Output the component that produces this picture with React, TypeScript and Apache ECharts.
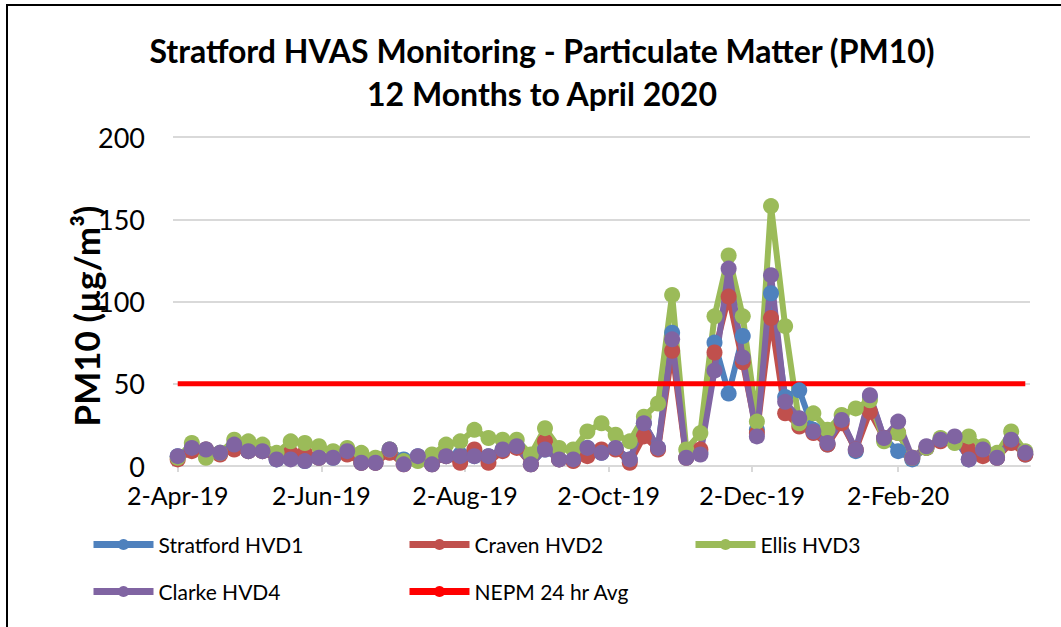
import React, { useEffect, useRef } from "react";
import * as echarts from "echarts";

const sampleDates = [
  "2019-04-02", "2019-04-08", "2019-04-14", "2019-04-20", "2019-04-26",
  "2019-05-02", "2019-05-08", "2019-05-14", "2019-05-20", "2019-05-26",
  "2019-06-01", "2019-06-07", "2019-06-13", "2019-06-19", "2019-06-25",
  "2019-07-01", "2019-07-07", "2019-07-13", "2019-07-19", "2019-07-25",
  "2019-07-31", "2019-08-06", "2019-08-12", "2019-08-18", "2019-08-24",
  "2019-08-30", "2019-09-05", "2019-09-11", "2019-09-17", "2019-09-23",
  "2019-09-29", "2019-10-05", "2019-10-11", "2019-10-17", "2019-10-23",
  "2019-10-29", "2019-11-04", "2019-11-10", "2019-11-16", "2019-11-22",
  "2019-11-28", "2019-12-04", "2019-12-10", "2019-12-16", "2019-12-22",
  "2019-12-28", "2020-01-03", "2020-01-09", "2020-01-15", "2020-01-21",
  "2020-01-27", "2020-02-02", "2020-02-08", "2020-02-14", "2020-02-20",
  "2020-02-26", "2020-03-03", "2020-03-09", "2020-03-15", "2020-03-21",
  "2020-03-27",
];

const stratfordHVD1 = [
  6, 11, 10, 8, 12, 9, 9, 4, 5, 3,
  5, 5, 9, 2, 2, 10, 4, 6, 1, 6,
  7, 6, 6, 10, 12, 1, 10, 4, 4, 11,
  8, 11, 4, 26, 11, 81, 5, 8, 75, 44,
  79, 22, 105, 42, 46, 22, 13, 28, 9, 42,
  17, 9, 4, 11, 16, 17, 4, 9, 5, 15,
  7,
];

const cravenHVD2 = [
  4, 9, 10, 7, 10, 9, 9, 5, 8, 8,
  5, 6, 7, 2, 2, 8, 1, 5, 1, 6,
  2, 10, 2, 9, 11, 1, 15, 4, 3, 6,
  10, 10, 2, 18, 10, 70, 5, 10, 69, 103,
  63, 20, 90, 32, 24, 20, 13, 26, 10, 33,
  17, 20, 5, 11, 15, 16, 10, 6, 5, 14,
  7,
];

const ellisHVD3 = [
  5, 14, 5, 8, 16, 15, 13, 8, 15, 14,
  12, 9, 11, 8, 5, 10, 3, 3, 7, 13,
  15, 22, 17, 16, 16, 7, 23, 11, 10, 21,
  26, 19, 15, 30, 38, 104, 10, 20, 91, 128,
  91, 27, 158, 85, 26, 32, 22, 31, 35, 40,
  15, 20, 5, 11, 17, 14, 18, 12, 8, 21,
  9,
];

const clarkeHVD4 = [
  6, 11, 10, 8, 13, 9, 9, 4, 4, 3,
  5, 5, 9, 2, 2, 10, 1, 6, 1, 6,
  6, 6, 6, 10, 12, 1, 10, 4, 4, 11,
  8, 11, 4, 26, 11, 77, 5, 7, 58, 120,
  66, 18, 116, 39, 29, 21, 14, 28, 10, 43,
  17, 27, 5, 12, 16, 18, 4, 10, 5, 16,
  8,
];

const nepmLimit = 50;

const xTickDates = ["2019-04-02", "2019-06-02", "2019-08-02", "2019-10-02", "2019-12-02", "2020-02-02"];
const xAxisStart = "2019-03-31";
const xAxisEnd = "2020-03-29";
const yTicks = [0, 50, 100, 150, 200];
const MONTHS = ["Jan", "Feb", "Mar", "Apr", "May", "Jun", "Jul", "Aug", "Sep", "Oct", "Nov", "Dec"];

const toTs = (s: string) => {
  const [y, m, d] = s.split("-").map(Number);
  return Date.UTC(y, m - 1, d);
};
const fmtDate = (v: number) => {
  const d = new Date(v);
  return `${d.getUTCDate()}-${MONTHS[d.getUTCMonth()]}-${String(d.getUTCFullYear()).slice(2)}`;
};

const FONT = "Lato, 'Noto Sans', sans-serif";

export default function App() {
  const ref = useRef<HTMLDivElement>(null);
  useEffect(() => {
    document.body.style.margin = "0";
    const chart = echarts.init(ref.current!, null, { renderer: "svg" });
    const pts = (vals: number[]) => sampleDates.map((d, i) => [toTs(d), vals[i]]);
    const mk = (name: string, vals: number[], color: string) => ({
      name,
      type: "line",
      data: pts(vals),
      symbol: "circle",
      symbolSize: 16,
      showSymbol: true,
      lineStyle: { color, width: 6 },
      itemStyle: { color, borderWidth: 0 },
      emphasis: { disabled: true },
    });
    const legendItem = (name: string, left: number, top: number) => ({
      data: [name],
      left,
      top,
      padding: 0,
      orient: "horizontal",
      itemWidth: 60,
      itemHeight: 14,
      itemGap: 5,
      lineStyle: { width: 7 },
      textStyle: { fontFamily: FONT, fontSize: 21, color: "#000", padding: [0, 0, 0, 0] },
      selectedMode: false,
    });
    chart.setOption({
      animation: false,
      backgroundColor: "#fff",
      textStyle: { fontFamily: FONT },
      grid: { left: 173, right: 31, top: 137, bottom: 161 },
      xAxis: {
        type: "value",
        min: toTs(xAxisStart),
        max: toTs(xAxisEnd),
        splitLine: { show: false },
        axisLine: { show: true, lineStyle: { color: "#d9d9d9", width: 2 } },
        axisTick: {
          show: true,
          inside: false,
          length: 6,
          lineStyle: { color: "#d9d9d9", width: 2 },
          customValues: xTickDates.map(toTs),
        },
        axisLabel: {
          customValues: xTickDates.map(toTs),
          formatter: (v: number) => fmtDate(v),
          fontFamily: FONT,
          fontSize: 25,
          color: "#000",
          margin: 16,
        },
      },
      yAxis: {
        type: "value",
        min: yTicks[0],
        max: yTicks[yTicks.length - 1],
        interval: 50,
        axisLine: { show: false },
        axisTick: { show: false },
        splitLine: { show: true, lineStyle: { color: "#d9d9d9", width: 2 } },
        axisLabel: { fontFamily: FONT, fontSize: 27, color: "#000", margin: 28 },
      },
      legend: [
        legendItem("Stratford HVD1", 90, 534),
        legendItem("Craven HVD2", 406, 534),
        legendItem("Ellis HVD3", 692, 534),
        legendItem("Clarke HVD4", 90, 581),
        legendItem("NEPM 24 hr Avg", 406, 581),
      ],
      graphic: [
        {
          type: "rect",
          shape: { x: 7, y: 5, width: 1080, height: 660 },
          style: { fill: "none", stroke: "#000", lineWidth: 2 },
          silent: true,
        },
        {
          type: "text",
          x: 542,
          y: 50,
          style: {
            text: "Stratford HVAS Monitoring - Particulate Matter (PM10)",
            font: `bold 32px ${FONT}`,
            fill: "#000",
            textAlign: "center",
            textVerticalAlign: "middle",
          },
        },
        {
          type: "text",
          x: 542,
          y: 93,
          style: {
            text: "12 Months to April 2020",
            font: `bold 32px ${FONT}`,
            fill: "#000",
            textAlign: "center",
            textVerticalAlign: "middle",
          },
        },
        {
          type: "text",
          x: 86,
          y: 316,
          rotation: Math.PI / 2,
          style: {
            text: "PM10 (µg/m³)",
            font: `bold 35px ${FONT}`,
            fill: "#000",
            textAlign: "center",
            textVerticalAlign: "middle",
          },
        },
      ],
      series: [
        mk("Stratford HVD1", stratfordHVD1, "#4f81bd"),
        mk("Craven HVD2", cravenHVD2, "#c0504d"),
        mk("Ellis HVD3", ellisHVD3, "#9bbb59"),
        mk("Clarke HVD4", clarkeHVD4, "#8064a2"),
        {
          name: "NEPM 24 hr Avg",
          type: "line",
          data: sampleDates.map((d) => [toTs(d), nepmLimit]),
          symbol: "none",
          showSymbol: false,
          lineStyle: { color: "#ff0000", width: 5 },
          itemStyle: { color: "#ff0000" },
          emphasis: { disabled: true },
        },
      ],
    });
    return () => chart.dispose();
  }, []);
  return <div ref={ref} style={{ width: 1061, height: 627 }} />;
}
